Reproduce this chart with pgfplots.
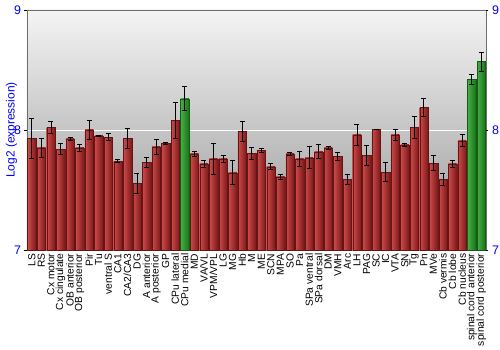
\documentclass[border=0pt]{standalone}
\usepackage{pgfplots}
\usepackage{pgfplotstable}
\pgfplotsset{compat=1.18}
\usepackage{fontspec}
\setmainfont{Liberation Sans}
\definecolor{redL}{RGB}{205,75,75}
\definecolor{redR}{RGB}{125,25,25}
\definecolor{grnL}{RGB}{70,175,70}
\definecolor{grnR}{RGB}{25,115,25}
\definecolor{bgTop}{RGB}{244,244,244}
\definecolor{bgBot}{RGB}{150,150,150}
\definecolor{axgray}{RGB}{110,110,110}
\pgfplotstableread{
x y e
0 7.93 0.17
1 7.85 0.08
2 8.02 0.05
3 7.84 0.045
4 7.925 0.01
5 7.85 0.03
6 8.00 0.08
7 7.95 0.003
8 7.94 0.03
9 7.74 0.012
10 7.93 0.08
11 7.555 0.085
12 7.73 0.045
13 7.86 0.06
14 7.89 0.01
15 8.08 0.15
16 8.26 0.10
17 7.80 0.02
18 7.72 0.03
19 7.76 0.13
20 7.76 0.03
21 7.645 0.10
22 7.99 0.085
23 7.805 0.05
24 7.83 0.02
25 7.695 0.025
26 7.61 0.02
27 7.80 0.01
28 7.76 0.06
29 7.77 0.09
30 7.82 0.06
31 7.85 0.01
32 7.78 0.03
33 7.59 0.04
34 7.96 0.09
35 7.79 0.085
36 8.005 0.002
37 7.65 0.08
38 7.96 0.045
39 7.875 0.015
40 8.02 0.09
41 8.19 0.075
42 7.725 0.06
43 7.59 0.05
44 7.72 0.03
45 7.91 0.05
46 8.42 0.04
47 8.57 0.08
}\expdata
\pgfplotsset{
  barbase/.style={ybar, bar width=0.88, bar shift=0pt, line width=0.2pt,
    error bars/y dir=both, error bars/y explicit,
    error bars/error bar style={black, line width=0.8pt},
    error bars/error mark options={rotate=90, mark size=2.5bp, black, line width=0.8pt}},
  redbar/.style={barbase, draw=redR!80!black, left color=redL, right color=redR},
  grnbar/.style={barbase, draw=grnR!80!black, left color=grnL, right color=grnR},
}
\begin{document}
\begin{tikzpicture}
\begin{axis}[
  at={(0,0)}, anchor=south west,
  scale only axis, width=459bp, height=240bp,
  xmin=-0.5, xmax=47.5, ymin=7, ymax=9,
  ytick={7,8,9},
  yticklabel style={text=blue, font=\fontsize{12.5}{12.5}\selectfont},
  /pgf/number format/assume math mode=true,
  ymajorgrids, grid style={white, line width=1pt},
  ytick pos=both, yticklabel pos=left,
  ylabel={Log2 (expression)},
  ylabel style={text=blue, font=\fontsize{12}{12}\selectfont, yshift=-15bp},
  extra y ticks={7,8,9},
  extra y tick style={yticklabel pos=right, grid=none},
  tick align=outside, major tick length=2.5bp,
  tick style={black, line width=0.6pt},
  xtick={0,...,47},
  xticklabels={LS,RS,Cx motor,Cx cingulate,OB anterior,OB posterior,Pir,Tu,ventral S,CA1,CA2/CA3,DG,A anterior,A posterior,GP,CPu lateral,CPu medial,MD,VA/VL,VPM/VPL,LG,MG,Hb,M,ME,SCN,MPA,SO,Pa,SPa ventral,SPa dorsal,DM,VMH,Arc,LH,PAG,SC,IC,VTA,SN,Tg,Pn,MVe,Cb vermis,Cb lobe,Cb nucleus,spinal cord anterior,spinal cord posterior},
  xticklabel style={rotate=90, anchor=east, font=\fontsize{10.3}{10.3}\selectfont, inner sep=1pt},
  major x tick style={draw=none},
  axis line style={axgray, line width=0.8pt},
  axis background/.style={top color=bgTop, bottom color=bgBot},
  clip=true,
]
\pgfplotsinvokeforeach{0,...,15,17,18,...,45}{
  \addplot[redbar, x filter/.expression={abs(x-#1)<0.1 ? x : nan}]
    table[x=x, y=y, y error=e] {\expdata};
}
\pgfplotsinvokeforeach{16,46,47}{
  \addplot[grnbar, x filter/.expression={abs(x-#1)<0.1 ? x : nan}]
    table[x=x, y=y, y error=e] {\expdata};
}
\end{axis}
\pgfresetboundingbox
\path[use as bounding box] (-27bp,-100bp) rectangle (473bp,250bp);
\end{tikzpicture}
\end{document}
